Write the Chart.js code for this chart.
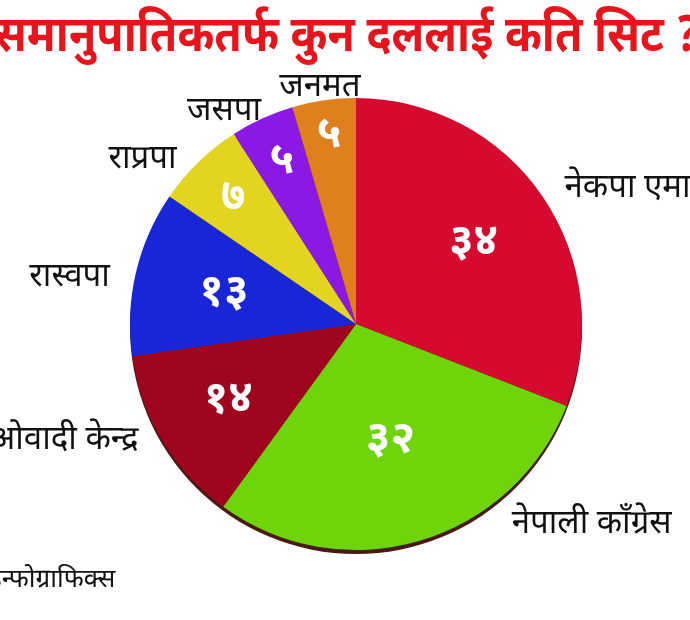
<!DOCTYPE html>
<html><head><meta charset="utf-8">
<script src="https://cdn.jsdelivr.net/npm/chart.js@4.4.1/dist/chart.umd.min.js"></script>
<style>
html,body{margin:0;padding:0;background:#fff;overflow:hidden;width:690px;height:620px;}
#wrap{position:relative;width:690px;height:620px;overflow:hidden;}
canvas{position:absolute;left:0;top:0;}
#title{position:absolute;left:-6px;top:14px;line-height:1;white-space:nowrap;color:#e8141c;font-weight:bold;font-size:50px;font-family:"Noto Sans Devanagari","Noto Sans",sans-serif;transform:scaleX(0.89);transform-origin:0 0;}
#foot{position:absolute;left:-11px;top:568px;line-height:1;white-space:nowrap;color:#111;font-size:26px;font-family:"Noto Sans Devanagari","Noto Sans",sans-serif;}
</style></head>
<body><div id="wrap">
<canvas id="c" width="690" height="620"></canvas>
<div id="title">समानुपातिकतर्फ कुन दललाई कति सिट ?</div>
<div id="foot">इन्फोग्राफिक्स</div>
</div>
<script>
const categories = ['नेकपा एमाले','नेपाली काँग्रेस','माओवादी केन्द्र','रास्वपा','राप्रपा','जसपा','जनमत'];
const seats = [34, 32, 14, 13, 7, 5, 5];
const sliceColors = ['#d6092f','#6dd50a','#a0051f','#1826d8','#e2d41f','#8b18e3','#e0801c'];

const devDigits = '०१२३४५६७८९';
const toDev = n => String(n).replace(/[0-9]/g, d => devDigits[d]);

const valueRadius = [0.63, 0.54, 0.66, 0.6, 0.78, 0.79, 0.84];
const labelOffsets = [[22,-6,'left'],[92,-14,'left'],[-24,2,'right'],[-26,7,'right'],[-22,0,'right'],[-38,-5,'center'],[-4,-10,'center']];
const FONT = '"Noto Sans Devanagari","Noto Sans",sans-serif';

const rimPlugin = {
  id:'rim',
  beforeDatasetsDraw(chart){
    const arc = chart.getDatasetMeta(0).data[0];
    if(!arc) return;
    const p = arc.getProps(['x','y','outerRadius'], true);
    const ctx = chart.ctx;
    ctx.save();
    ctx.beginPath();
    ctx.arc(p.x, p.y + 4, p.outerRadius, 0, Math.PI*2);
    ctx.fillStyle = '#4a1a12';
    ctx.fill();
    ctx.restore();
  }
};

const labelPlugin = {
  id:'labels',
  afterDatasetsDraw(chart){
    const ctx = chart.ctx;
    const meta = chart.getDatasetMeta(0);
    ctx.save();
    meta.data.forEach((arc, i) => {
      const p = arc.getProps(['x','y','startAngle','endAngle','outerRadius'], true);
      const mid = (p.startAngle + p.endAngle) / 2;
      const cx = Math.cos(mid), cy = Math.sin(mid);
      ctx.fillStyle = '#fff';
      ctx.font = 'bold 44px ' + FONT;
      ctx.textAlign = 'center';
      ctx.textBaseline = 'middle';
      const f = valueRadius[i];
      ctx.fillText(toDev(chart.data.datasets[0].data[i]), p.x + cx*p.outerRadius*f, p.y + cy*p.outerRadius*f + 3);
      const o = labelOffsets[i];
      ctx.fillStyle = '#111';
      ctx.font = '33px ' + FONT;
      ctx.textAlign = o[2];
      ctx.fillText(chart.data.labels[i], p.x + cx*p.outerRadius + o[0], p.y + cy*p.outerRadius + o[1]);
    });
    ctx.restore();
  }
};

new Chart(document.getElementById('c'), {
  type:'pie',
  data:{
    labels: categories,
    datasets:[{data: seats, backgroundColor: sliceColors, borderWidth:0, hoverOffset:0}]
  },
  options:{
    responsive:false,
    animation:false,
    layout:{padding:{left:130, right:108, top:98, bottom:70}},
    plugins:{legend:{display:false}, tooltip:{enabled:false}, title:{display:false}}
  },
  plugins:[rimPlugin, labelPlugin]
});
</script>
</body></html>
